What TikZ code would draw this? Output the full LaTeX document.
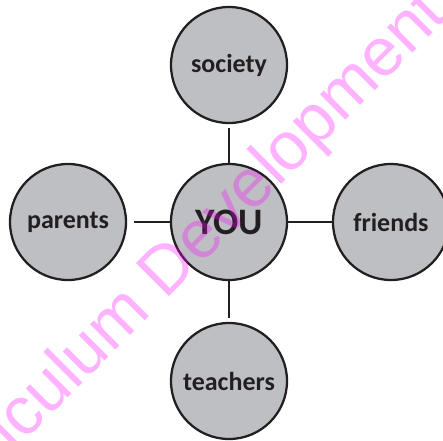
\documentclass[tikz,border=0pt]{standalone}
\usepackage{fontspec}
\setmainfont{Carlito}
\newfontfamily\markfont{Liberation Sans}
\usepackage{tikz}

\definecolor{bubble}{RGB}{190,191,195}
\definecolor{ink}{RGB}{35,31,32}
\definecolor{stamp}{RGB}{255,0,255}

\tikzset{
  x=0.75pt, y=-0.75pt,
  bubble/.style={circle, draw=ink, line width=1.7pt, fill=bubble, minimum size=87pt,
    inner sep=0pt, text=ink, font=\bfseries\fontsize{19.5}{20}\selectfont},
  link/.style={draw=ink, line width=1.5pt},
}

\begin{document}
\begin{tikzpicture}
\useasboundingbox (0,0) rectangle (443,440);
\clip (0,0) rectangle (443,440);
\node[bubble, font=\bfseries\fontsize{28}{29}\selectfont] (you) at (229,222) {YOU};
\foreach \name/\x/\y/\gap in {society/229/65/4, parents/68/222/7, friends/391/222/0, teachers/229/381/4} {
\node[bubble] (\name) at (\x,\y) {\name};
\draw[link, shorten <=\gap*0.75pt] (\name) -- (you);
}
% stamp across the page
\node[anchor=base west, inner sep=0pt, rotate=45, text=stamp, text opacity=0.3,
  font=\markfont\fontsize{51}{51}\selectfont] (stamp) at (-80,546) {Curriculum Development};
\end{tikzpicture}
\end{document}
